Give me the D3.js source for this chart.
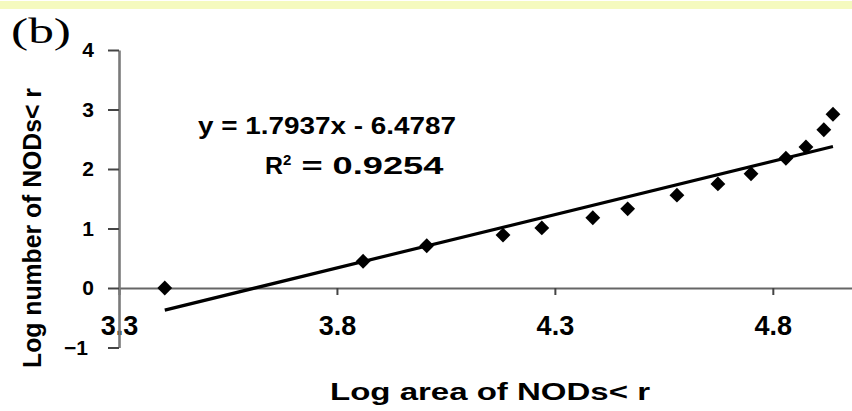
<!DOCTYPE html>
<html>
<head>
        <meta charset="utf-8">
        <script src="https://d3js.org/d3.v7.min.js"></script>
        <style>
            body { margin: 0; background: #fff; }
            text { font-family: "Liberation Sans", Arial, sans-serif; fill: #000; }
        </style>
</head>
<body>
        <script type="text/javascript">

            // values
            var logArea  = [3.405, 3.860, 4.006, 4.181, 4.270, 4.387, 4.467, 4.580, 4.674, 4.750, 4.830, 4.876, 4.917, 4.938];
            var logCount = [0.00, 0.45, 0.71, 0.89, 1.01, 1.18, 1.33, 1.56, 1.75, 1.92, 2.18, 2.37, 2.66, 2.92];
            var xTicks = [3.3, 3.8, 4.3, 4.8];
            var yTicks = [-1, 0, 1, 2, 3, 4];
            var slope = 1.7937, intercept = -6.4787, rSquared = 0.9254;

            var width = 852,
                height = 411;

            var svg = d3.select('body')
                .append('svg')
                .attr('width', width)
                .attr('height', height);

            // the pale yellow strip along the top
            svg.append('rect')
                .attr('x', 0).attr('y', 1)
                .attr('width', width).attr('height', 8)
                .attr('fill', '#f5fabf');

            var x = d3.scaleLinear().domain([3.3, 5.0]).range([119, 860]);
            var y = d3.scaleLinear().domain([-1, 4]).range([347.5, 50]);

            // x axis sits on y = 0
            var xAxis = svg.append('g')
                .attr('transform', 'translate(0,' + y(0) + ')')
                .call(d3.axisBottom(x).tickValues(xTicks).tickFormat(d3.format('.1f'))
                    .tickSize(7).tickSizeOuter(0).tickPadding(21));
            xAxis.select('.domain').attr('stroke', '#666').attr('stroke-width', 2.2);
            xAxis.selectAll('.tick line').attr('stroke', '#444').attr('stroke-width', 2);
            xAxis.selectAll('.tick text')
                .attr('font-size', 27).attr('font-weight', 'bold')
                .attr('font-family', '"Liberation Sans", Arial, sans-serif');

            var yAxis = svg.append('g')
                .attr('transform', 'translate(' + x(3.3) + ',0)')
                .call(d3.axisLeft(y).tickValues(yTicks).tickFormat(d3.format('d'))
                    .tickSize(11).tickSizeOuter(0).tickPadding(14));
            yAxis.select('.domain').attr('stroke', '#7a7a7a').attr('stroke-width', 2.6);
            yAxis.selectAll('.tick line').attr('stroke', '#444').attr('stroke-width', 2);
            yAxis.selectAll('.tick text')
                .attr('font-size', 21).attr('font-weight', 'bold')
                .attr('font-family', '"Liberation Sans", Arial, sans-serif')
                .attr('dx', function(d) { return d < 0 ? -6 : 0; });

            // linear trendline across the data range
            var xr = d3.extent(logArea);
            svg.append('line')
                .attr('x1', x(xr[0])).attr('y1', y(slope * xr[0] + intercept))
                .attr('x2', x(xr[1])).attr('y2', y(slope * xr[1] + intercept))
                .attr('stroke', '#000')
                .attr('stroke-width', 3.2);

            var points = logArea.map(function(d, i) { return {x: d, y: logCount[i]}; });

            svg.append('g')
                .selectAll('path')
                .data(points)
                .enter().append('path')
                .attr('d', d3.symbol(d3.symbolSquare, 110))
                .attr('transform', function(d) { return 'translate(' + x(d.x) + ',' + y(d.y) + ') rotate(45)'; })
                .attr('fill', '#000');

            // equation and R^2
            svg.append('text')
                .attr('x', 198).attr('y', 134)
                .attr('font-size', 24)
                .attr('textLength', 258).attr('lengthAdjust', 'spacingAndGlyphs')
                .style('font-weight', 'bold')
                .text('y = ' + slope + 'x - ' + Math.abs(intercept));

            var r2 = svg.append('text')
                .attr('x', 265).attr('y', 174)
                .attr('font-size', 24)
                .style('font-weight', 'bold');
            r2.append('tspan').attr('textLength', 18).attr('lengthAdjust', 'spacingAndGlyphs').text('R');
            r2.append('tspan').attr('dy', -9).attr('font-size', 15).text('2');
            r2.append('tspan').attr('dy', 9)
                .attr('textLength', 152).attr('lengthAdjust', 'spacingAndGlyphs')
                .text(' = ' + rSquared);

            // axis titles
            svg.append('text')
                .attr('x', 490).attr('y', 400)
                .attr('text-anchor', 'middle')
                .attr('font-size', 24).attr('font-weight', 'bold')
                .attr('textLength', 320).attr('lengthAdjust', 'spacingAndGlyphs')
                .text('Log area of NODs< r');

            svg.append('text')
                .attr('transform', 'translate(41,228) rotate(-90)')
                .attr('text-anchor', 'middle')
                .attr('font-size', 26).attr('font-weight', 'bold')
                .attr('textLength', 280).attr('lengthAdjust', 'spacingAndGlyphs')
                .text('Log number of NODs< r');

            // panel letter
            svg.append('text')
                .attr('x', 11).attr('y', 43)
                .attr('font-size', 36)
                .attr('textLength', 60).attr('lengthAdjust', 'spacingAndGlyphs')
                .style('font-family', '"Liberation Serif", "Times New Roman", serif')
                .text('(b)');

        </script>
</body>
</html>
